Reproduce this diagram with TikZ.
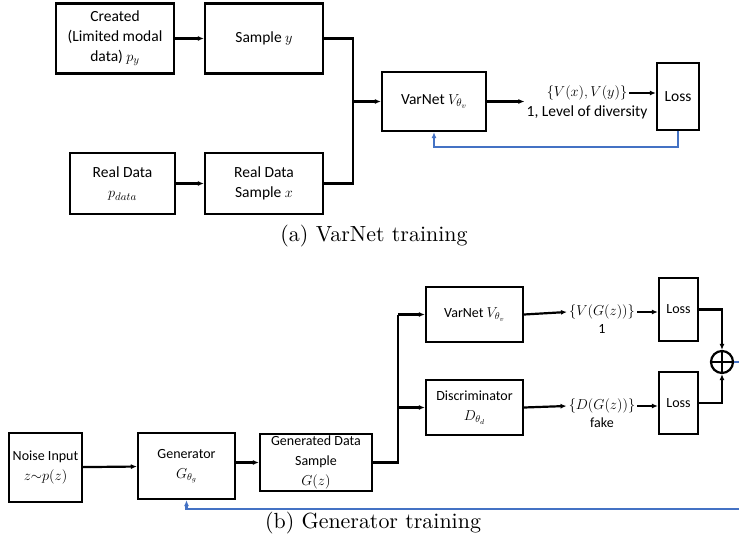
\documentclass[tikz,border=0pt]{standalone}
\usepackage{fontspec}
\setsansfont{Carlito}
\usetikzlibrary{arrows.meta}
\definecolor{fbblue}{RGB}{68,114,196}
\tikzset{
  blk/.style={draw,line width=2.2bp,align=center,inner sep=2bp,
    font=\sffamily\fontsize{14bp}{20bp}\selectfont},
  lbl/.style={align=center,inner sep=2bp,
    font=\sffamily\fontsize{14bp}{18bp}\selectfont},
  big/.style={font=\sffamily\fontsize{15.5bp}{20bp}\selectfont},
  wire/.style={line width=2.2bp},
  arr/.style={line width=2.2bp,-{Latex[length=6bp,width=5bp]}},
  fb/.style={line width=2.2bp,fbblue,-{Latex[length=6bp,width=5bp]}},
  capt/.style={font=\rmfamily\normalsize,scale=2.2}
}
\begin{document}
\begin{tikzpicture}[x=1bp,y=-1bp]
\useasboundingbox (0,0) rectangle (739,545);

\node[blk,big,minimum width=118bp,minimum height=70bp] (created) at (115,38.5) {Created\\(Limited modal\\data) $p_y$};
\node[blk,big,minimum width=118bp,minimum height=70bp] (sampy) at (264,38.5) {Sample $y$};
\node[blk,big,minimum width=105bp,minimum height=61bp] (realdata) at (122.5,183.5) {Real Data\\$p_{data}$};
\node[blk,big,minimum width=118bp,minimum height=61bp] (realsamp) at (264,183.5) {Real Data\\Sample $x$};
\node[blk,big,minimum width=104bp,minimum height=59bp] (varnet) at (434,101.5) {VarNet $V_{\theta_v}$};
\node[lbl,big] (vxy) at (587,93) {$\{V(x),V(y)\}$};
\node[lbl,big] (vdiv) at (587,112) {1, Level of diversity};
\node[blk,big,minimum width=42bp,minimum height=67bp] (loss) at (678,96.5) {Loss};
\node[capt] (capa) at (374,236) {(a) VarNet training};

\coordinate (ja) at (353,101.5);
\coordinate (fa) at (434,147);
\draw[arr] (created) -- (sampy);
\draw[arr] (realdata) -- (realsamp);
\draw[wire] (sampy.east) -| (ja);
\draw[wire] (realsamp.east) -| (ja);
\draw[arr] (ja) -- (varnet.west);
\draw[arr] (varnet.east) -- (vdiv.west |- varnet.east);
\draw[arr] (vxy.east) -- (vxy.east -| loss.west);
\draw[fb] (loss.south) |- (fa) -- (varnet.south);

\node[blk,minimum width=73bp,minimum height=69bp] (noise) at (45.5,467.5) {Noise Input\\$z{\sim}p(z)$};
\node[blk,minimum width=97bp,minimum height=66bp] (gen) at (186.5,466) {Generator\\$G_{\theta_g}$};
\node[blk,minimum width=112bp,minimum height=55bp] (gds) at (316,462.5) {Generated Data\\Sample\\$G(z)$};
\node[blk,minimum width=97bp,minimum height=55bp] (varnetb) at (474.5,314.5) {VarNet $V_{\theta_v}$};
\node[blk,minimum width=97bp,minimum height=55bp] (disc) at (474.5,407.5) {Discriminator\\$D_{\theta_d}$};
\node[lbl] (vg) at (602,312) {$\{V(G(z))\}$};
\node[lbl] (vone) at (602,329) {1};
\node[lbl] (dg) at (602,406) {$\{D(G(z))\}$};
\node[lbl] (dfake) at (602,423) {fake};
\node[blk,minimum width=39bp,minimum height=63bp] (lossv) at (678.5,309.5) {Loss};
\node[blk,minimum width=39bp,minimum height=62bp] (lossd) at (678.5,403) {Loss};
\node[draw,circle,line width=2.2bp,minimum size=22bp,inner sep=0pt] (sum) at (722,362) {};
\draw[wire] (sum.north) -- (sum.south) (sum.west) -- (sum.east);
\node[capt] (capb) at (373,523) {(b) Generator training};

\coordinate (jb) at (398,314.5);
\coordinate (fbr) at (760,509);
\draw[arr] (noise) -- (gen);
\draw[arr] (gen.east |- gds.east) -- (gds.west);
\draw[wire] (gds.east) -| (jb);
\draw[arr] (jb) -- (varnetb.west);
\draw[arr] (jb |- disc.west) -- (disc.west);
\draw[arr] (varnetb.east) -- (vg.west);
\draw[arr] (disc.east) -- (dg.west);
\draw[arr] (vg.east) -- (vg.east -| lossv.west);
\draw[arr] (dg.east) -- (dg.east -| lossd.west);
\draw[arr] (lossv.east) -| (sum.north);
\draw[arr] (lossd.east) -| (sum.south);
\draw[fb] (sum.east) -| (fbr) -| (gen.south);
\end{tikzpicture}
\end{document}
